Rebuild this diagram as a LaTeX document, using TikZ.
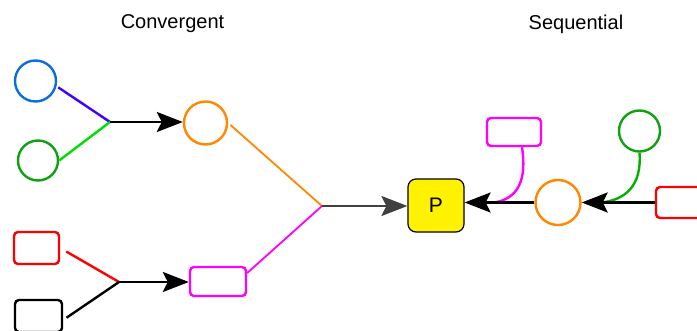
\documentclass[tikz,border=0pt]{standalone}
\usepackage{fontspec}
\setmainfont{Liberation Sans}
\usetikzlibrary{arrows.meta}
\definecolor{cblue}{HTML}{0A6EE0}
\definecolor{cgreen}{HTML}{10A010}
\definecolor{corange}{HTML}{FF8800}
\definecolor{cmag}{HTML}{FF00FF}
\definecolor{cred}{HTML}{FF0000}
\definecolor{cviolet}{HTML}{4000FF}
\definecolor{clgreen}{HTML}{00E000}
\definecolor{cgray}{HTML}{404040}
\tikzset{bigtip/.tip={Stealth[length=26pt,width=20pt,inset=5pt]}}
\begin{document}
\begin{tikzpicture}[x=1pt,y=-1pt,
  circ/.style={draw,circle,line width=2.4pt,inner sep=0pt},
  rbox/.style={draw,rounded corners=4pt,line width=2.4pt,inner sep=0pt,minimum width=#1},
  rbox/.default=45pt,
  link/.style={line width=2.4pt},
  arr/.style={line width=2.6pt,-bigtip},
  title/.style={font=\fontsize{20}{24}\selectfont,inner sep=0pt}
]
\useasboundingbox (0,0) rectangle (697,331);
\node[title] (t1) at (172.5,24) {Convergent};
\node[title] (t2) at (576,24) {Sequential};
% convergent part
\node[circ,cblue,minimum size=41pt] (b1) at (35.5,81) {};
\node[circ,cgreen,minimum size=40pt] (g1) at (38,160.5) {};
\node[circ,corange,minimum size=43pt] (o1) at (205.5,123) {};
\node[rbox=45pt,cred,minimum height=32pt] (r1) at (36.5,248) {};
\node[rbox=47pt,black,minimum height=32pt] (k1) at (38.5,316) {};
\node[rbox=56pt,cmag,minimum height=29pt] (m1) at (218,281.5) {};
\node[draw,fill=yellow,rounded corners=8pt,line width=1.2pt,minimum width=56pt,minimum height=53pt,inner sep=0pt,font=\fontsize{21}{24}\selectfont] (P) at (436,205.5) {P};
\coordinate (j1) at (110,122);
\coordinate (j2) at (119,282);
\coordinate (j3) at (322,206);
\draw[link,cviolet,shorten <=2pt] (b1.-14) -- (j1);
\draw[link,clgreen] (g1.east) -- (j1);
\draw[arr,black] (j1) -- (j1 -| o1.west);
\draw[link,cred,shorten <=7pt] (r1.east) -- (j2);
\draw[link,black,shorten <=4pt] ([yshift=-4pt]k1.east) -- (j2);
\draw[arr,black] (j2) -- (j2 -| m1.west);
\draw[line width=1.8pt,corange,shorten <=3pt] (o1.east) -- (j3);
\draw[line width=1.8pt,cmag] ([yshift=8.5pt]m1.east) -- (j3);
\draw[arr,cgray] (j3) -- (j3 -| P.west);
% sequential part
\node[rbox=54pt,cmag,minimum height=28pt] (m2) at (514,132) {};
\node[circ,corange,minimum size=45pt] (o2) at (558,202.5) {};
\node[circ,cgreen,minimum size=41pt] (g2) at (639.5,131) {};
\node[rbox=56pt,cred,minimum height=31pt] (r2) at (684,202.5) {};
\coordinate (c1) at (494,202.5);
\coordinate (c2) at (601,202.5);
\draw[link,cmag] ([xshift=8pt]m2.south) .. controls (527,180) and (518,199) .. (c1);
\draw[link,clgreen!80!black] (g2.south) .. controls (642,185) and (626,200) .. (c2);
\draw[arr,black] (r2.west) -- (o2.east);
\draw[arr,black] (o2.west) -- (o2.west -| P.east);
\end{tikzpicture}
\end{document}
